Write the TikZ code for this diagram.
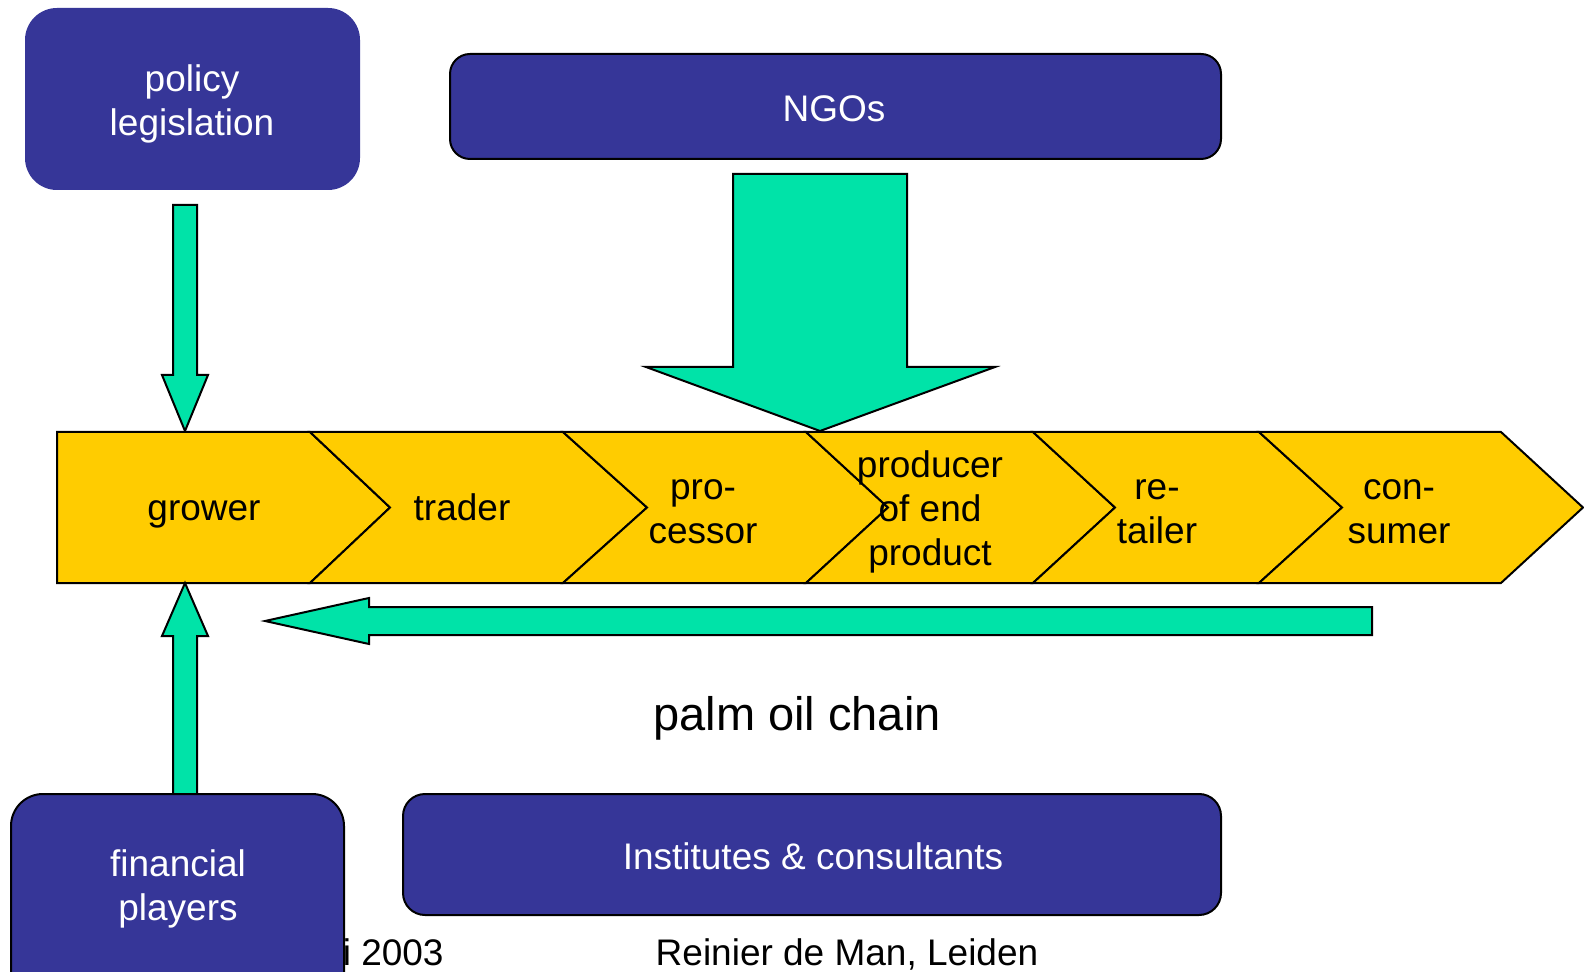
\documentclass[tikz,border=0pt]{standalone}
\usepackage{fontspec}
\setmainfont{Liberation Sans}
\definecolor{boxblue}{HTML}{363698}
\definecolor{arrgreen}{HTML}{00E3A8}
\definecolor{chevyellow}{HTML}{FFCC00}
\tikzset{
  bluebox/.style={fill=boxblue, draw=black, line width=1pt},
  blocky/.style={fill=arrgreen, draw=black, line width=1pt, line join=miter},
  chev/.style={fill=chevyellow, draw=black, line width=1pt, line join=miter},
  lbl/.style={font=\fontsize{18.5}{22}\selectfont, align=center, inner sep=0pt},
  wlbl/.style={lbl, text=white},
}
\begin{document}
\begin{tikzpicture}[x=0.5pt,y=-0.5pt]
\clip (0,0) rectangle (1584,972);
\fill[white] (0,0) rectangle (1584,972);

% top boxes
\fill[boxblue, rounded corners=16pt] (25,8) rectangle (360,190);
\node[wlbl] (policy) at (192,104) {policy\\legislation};
\draw[bluebox, rounded corners=10pt] (450,54) rectangle (1221,159);
\node[wlbl] (ngos) at (834,108.5) {NGOs};

% block arrows from above
\draw[blocky] (173,205) -- (197,205) -- (197,375) -- (208,375) -- (185,431) -- (162,375) -- (173,375) -- cycle;
\draw[blocky] (733,174) -- (907,174) -- (907,367) -- (995,367) -- (820,431) -- (646,367) -- (733,367) -- cycle;

% chain
\draw[chev] (57,432) -- (310,432) -- (390,507.5) -- (310,583) -- (57,583) -- cycle;
\draw[chev] (310,432) -- (563,432) -- (647,507.5) -- (563,583) -- (310,583) -- (390,507.5) -- cycle;
\draw[chev] (563,432) -- (806,432) -- (888,507.5) -- (806,583) -- (563,583) -- (647,507.5) -- cycle;
\draw[chev] (806,432) -- (1033,432) -- (1115,507.5) -- (1033,583) -- (806,583) -- (888,507.5) -- cycle;
\draw[chev] (1033,432) -- (1259,432) -- (1342,507.5) -- (1259,583) -- (1033,583) -- (1115,507.5) -- cycle;
\draw[chev] (1259,432) -- (1501,432) -- (1583,507.5) -- (1501,583) -- (1259,583) -- (1342,507.5) -- cycle;
\node[lbl] (grower) at (204,514) {grower};
\node[lbl] (trader) at (462,507) {trader};
\node[lbl] (processor) at (703,512) {pro-\\cessor};
\node[lbl] (producer) at (930,512) {producer\\of end\\product};
\node[lbl] (retailer) at (1157,512) {re-\\tailer};
\node[lbl] (consumer) at (1399,512) {con-\\sumer};

% arrows below
\draw[blocky] (173,795) -- (173,636) -- (162,636) -- (185,583) -- (208,636) -- (197,636) -- (197,795) -- cycle;
\draw[blocky] (1372,607) -- (369,607) -- (369,598) -- (265,621) -- (369,644) -- (369,635) -- (1372,635) -- cycle;

\node[font=\fontsize{23.5}{28}\selectfont, anchor=base, inner sep=0pt] (title) at (797,730) {palm oil chain};

% footer
\node[lbl, anchor=base east] (date) at (444,965) {i 2003};
\node[lbl, anchor=base] (author) at (847,965) {Reinier de Man, Leiden};

% bottom boxes
\draw[bluebox, rounded corners=16pt] (11,794) rectangle (344,1010);
\node[wlbl] (fin) at (178,889) {financial\\players};
\draw[bluebox, rounded corners=11pt] (403,794) rectangle (1221,915);
\node[wlbl] (inst) at (813,856) {Institutes \& consultants};
\end{tikzpicture}
\end{document}
